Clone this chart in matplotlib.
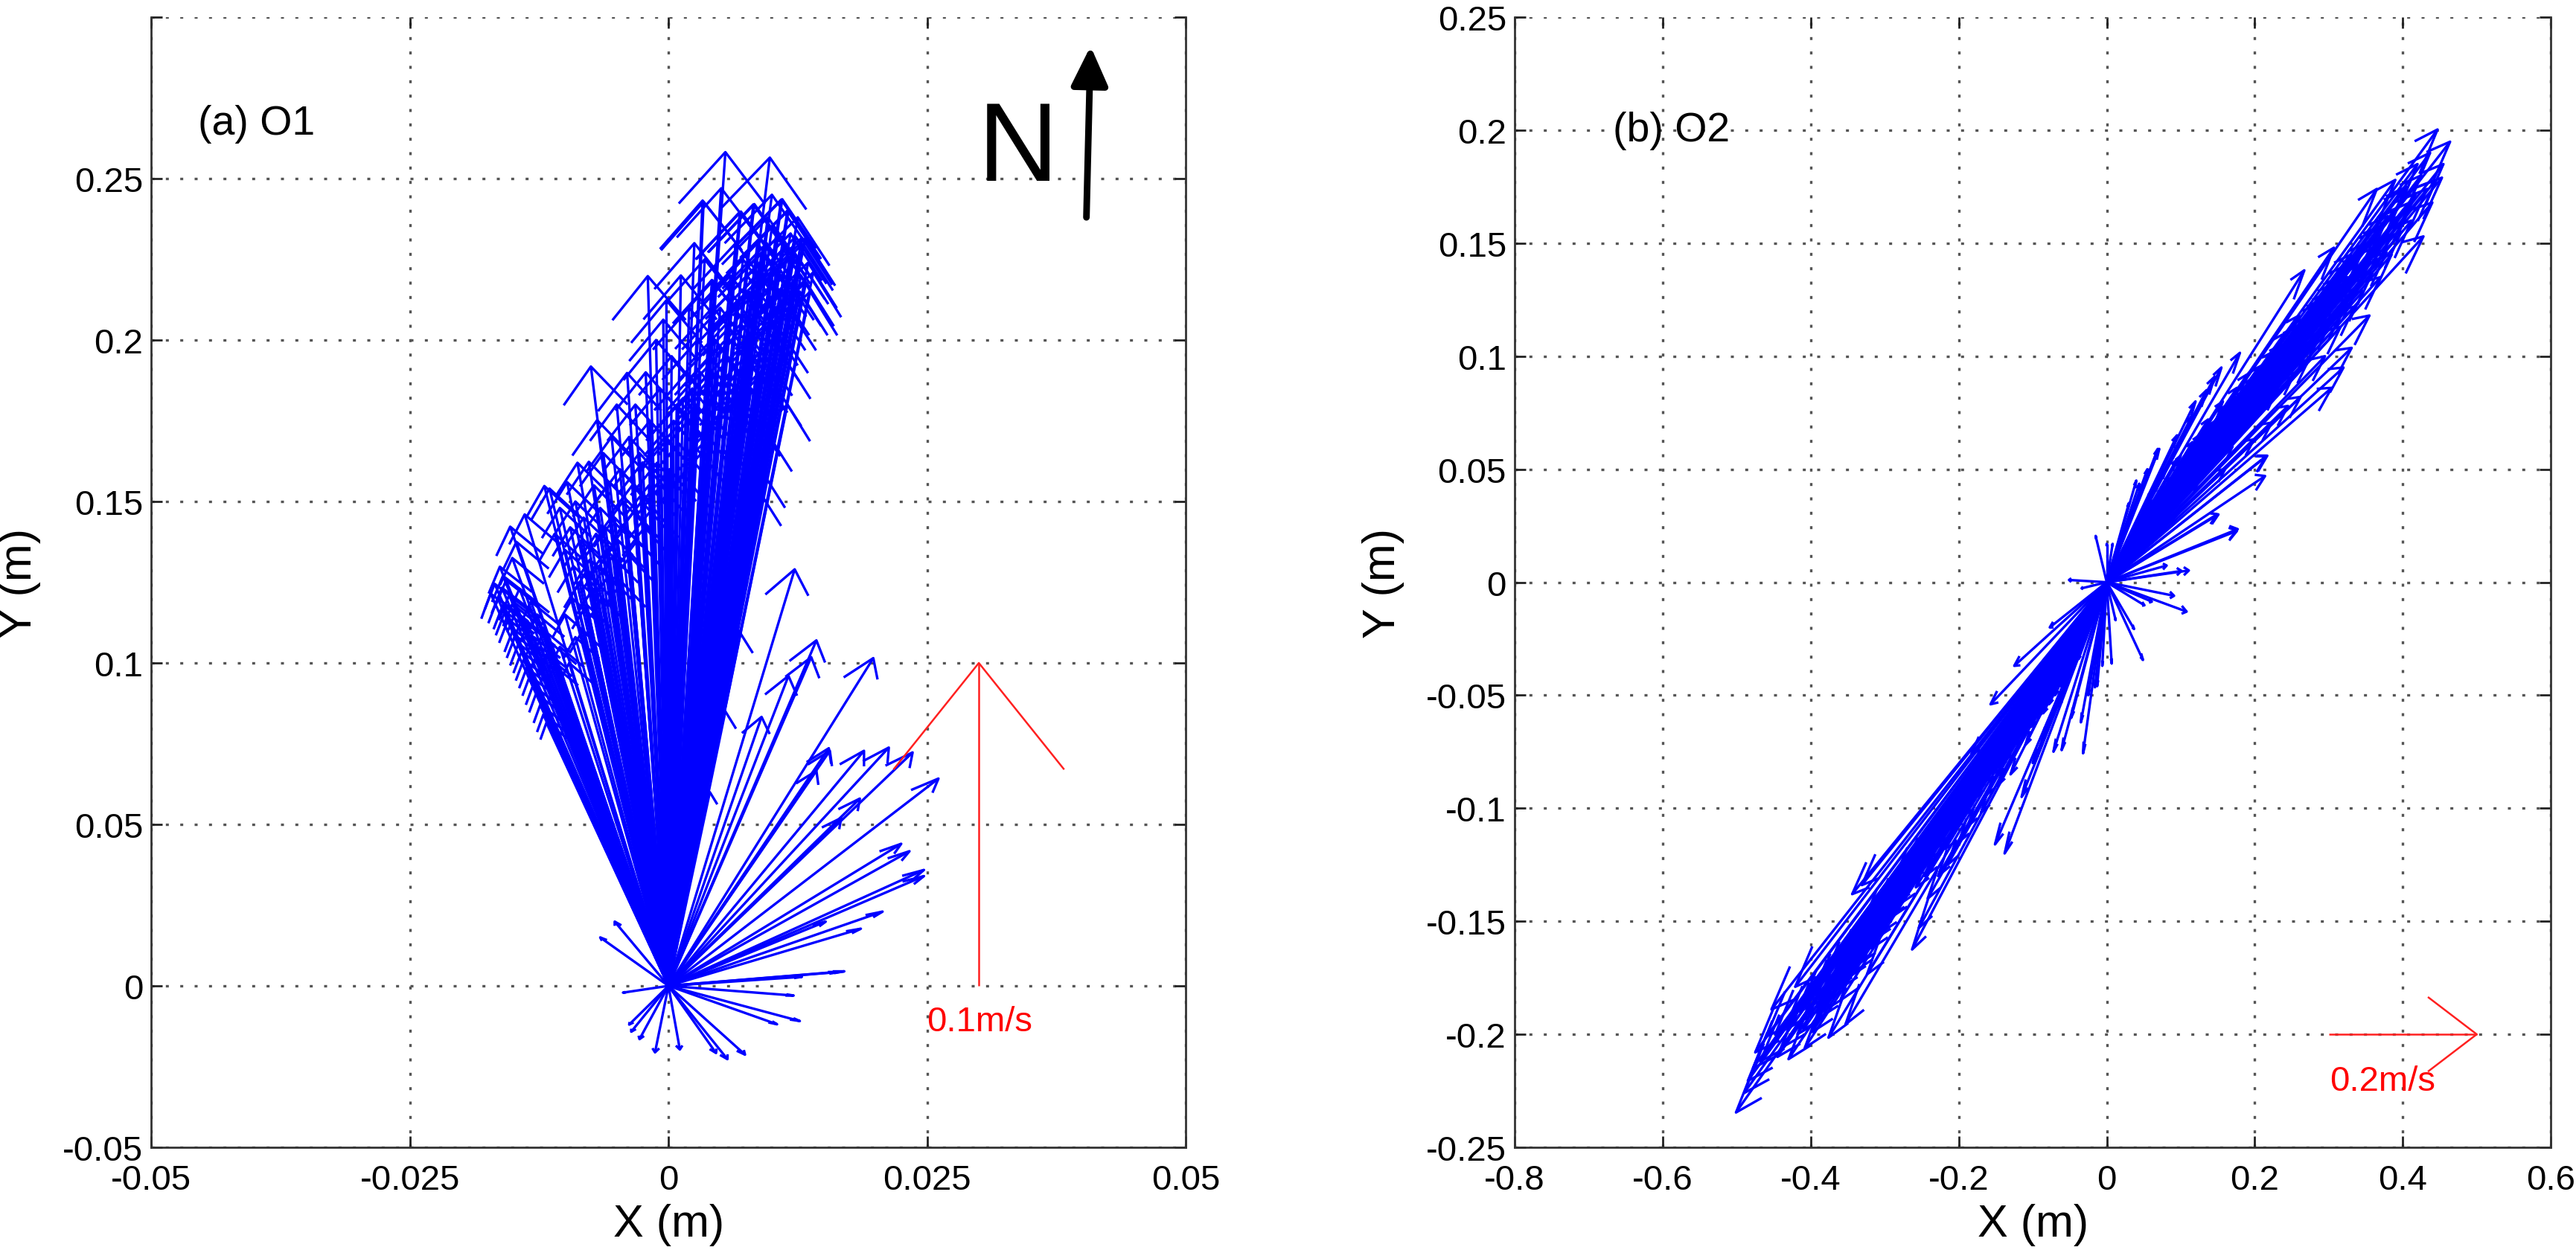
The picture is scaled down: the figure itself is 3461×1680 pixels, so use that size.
import matplotlib
matplotlib.use("Agg")
import matplotlib.pyplot as plt
from matplotlib.collections import LineCollection

plt.rcParams['font.family'] = ['Liberation Sans', 'DejaVu Sans']

# ---- O1 velocity vectors (u, v) ----
o1_band_left = [
    (-0.0172, 0.1215), (-0.0168, 0.1245), (-0.0165, 0.1200), (-0.0163, 0.1298),
    (-0.0161, 0.1233), (-0.0160, 0.1180), (-0.0158, 0.1160), (-0.0157, 0.1256),
    (-0.0155, 0.1135), (-0.0153, 0.1422), (-0.0151, 0.1325), (-0.0150, 0.1105),
    (-0.0148, 0.1085), (-0.0147, 0.1375), (-0.0145, 0.1060), (-0.0142, 0.1035),
    (-0.0140, 0.1010), (-0.0139, 0.1460), (-0.0137, 0.0985), (-0.0134, 0.0960),
    (-0.0131, 0.0930), (-0.0128, 0.0905), (-0.0124, 0.0870), (-0.0121, 0.0840),
    (-0.0118, 0.0815), (-0.0160, 0.1270), (-0.0154, 0.1210), (-0.0150, 0.1190),
    (-0.0146, 0.1170), (-0.0144, 0.1230), (-0.0141, 0.1140), (-0.0136, 0.1120),
    (-0.0133, 0.1190), (-0.0130, 0.1080), (-0.0127, 0.1150), (-0.0124, 0.1050),
    (-0.0120, 0.1100), (-0.0117, 0.1020), (-0.0113, 0.1060), (-0.0110, 0.0990),
]
o1_band_mid = [
    (-0.0120, 0.1548), (-0.0115, 0.1540), (-0.0110, 0.1400), (-0.0105, 0.1480),
    (-0.0100, 0.1350), (-0.0098, 0.1560), (-0.0095, 0.1420), (-0.0092, 0.1300),
    (-0.0090, 0.1500), (-0.0088, 0.1620), (-0.0085, 0.1380), (-0.0082, 0.1450),
    (-0.0080, 0.1280), (-0.0077, 0.1623), (-0.0075, 0.1918), (-0.0072, 0.1550),
    (-0.0070, 0.1400), (-0.0069, 0.1752), (-0.0066, 0.1480), (-0.0063, 0.1650),
    (-0.0060, 0.1350), (-0.0057, 0.1560), (-0.0055, 0.1700), (-0.0052, 0.1450),
    (-0.0050, 0.1800), (-0.0047, 0.1600), (-0.0044, 0.1500), (-0.0040, 0.1898),
    (-0.0038, 0.1700), (-0.0035, 0.1550), (-0.0032, 0.1800), (-0.0028, 0.1650),
    (-0.0025, 0.1621), (-0.0022, 0.1900), (-0.0020, 0.2198), (-0.0018, 0.1750),
    (-0.0012, 0.2000), (-0.0008, 0.1850), (-0.0005, 0.2063), (-0.0002, 0.2123),
    (-0.0001, 0.1694), (0.0003, 0.1950), (0.0008, 0.1800), (0.0015, 0.1582),
]
o1_band_fill = [
    (-0.0105, 0.1050), (-0.0100, 0.1150), (-0.0096, 0.1000), (-0.0093, 0.1200),
    (-0.0090, 0.1080), (-0.0086, 0.1250), (-0.0083, 0.1100), (-0.0079, 0.1180),
    (-0.0076, 0.1320), (-0.0073, 0.1230), (-0.0068, 0.1300), (-0.0064, 0.1200),
    (-0.0061, 0.1420), (-0.0058, 0.1270), (-0.0054, 0.1330), (-0.0049, 0.1380),
    (-0.0045, 0.1250), (-0.0042, 0.1420), (-0.0037, 0.1330), (-0.0033, 0.1470),
    (-0.0030, 0.1380), (-0.0026, 0.1500), (-0.0023, 0.1420), (-0.0019, 0.1550),
    (-0.0015, 0.1480), (-0.0011, 0.1620), (-0.0007, 0.1550), (-0.0003, 0.1700),
    (0.0001, 0.1600), (0.0005, 0.1750), (0.0010, 0.1680), (0.0014, 0.1820),
    (0.0019, 0.1750), (0.0023, 0.1850), (0.0027, 0.1800), (0.0031, 0.1900),
    (0.0036, 0.1850), (0.0040, 0.1950), (0.0046, 0.1900), (0.0050, 0.1980),
    (0.0056, 0.2050), (0.0062, 0.2000), (0.0066, 0.2120), (0.0071, 0.2080),
    (0.0076, 0.2200), (0.0081, 0.2150), (0.0086, 0.2300), (0.0091, 0.2200),
    (0.0096, 0.2380), (0.0101, 0.2250), (0.0106, 0.2320), (0.0111, 0.2280),
    (0.0117, 0.2250), (0.0123, 0.2320), (0.0127, 0.2150), (0.0133, 0.2180),
    (0.0105, 0.2100), (0.0098, 0.2050), (0.0094, 0.1950), (0.0088, 0.1900),
    (0.0082, 0.1950), (0.0077, 0.2000), (0.0068, 0.1900), (0.0064, 0.1850),
    (0.0058, 0.1800), (0.0052, 0.1850), (0.0047, 0.1750), (0.0039, 0.1700),
    (0.0032, 0.1650),
]
o1_band_right = [
    (0.0055, 0.2582), (0.0098, 0.2565), (0.0034, 0.2428), (0.0082, 0.2420),
    (0.0109, 0.2435), (0.0115, 0.2401), (0.0069, 0.2397), (0.0132, 0.2314),
    (0.0130, 0.2298), (0.0043, 0.2184), (0.0126, 0.2253), (0.0090, 0.2272),
    (0.0104, 0.2211), (0.0122, 0.2270), (0.0118, 0.2330), (0.0100, 0.2350),
    (0.0095, 0.2300), (0.0088, 0.2240), (0.0112, 0.2200), (0.0108, 0.2150),
    (0.0120, 0.2180), (0.0128, 0.2200), (0.0135, 0.2240), (0.0140, 0.2210),
    (0.0137, 0.2150), (0.0116, 0.2100), (0.0109, 0.2025), (0.0113, 0.1940),
    (0.0090, 0.1894), (0.0100, 0.2000), (0.0085, 0.2080), (0.0078, 0.2150),
    (0.0072, 0.2250), (0.0065, 0.2300), (0.0060, 0.2200), (0.0070, 0.2050),
    (0.0075, 0.1950), (0.0080, 0.1850), (0.0093, 0.1580), (0.0090, 0.1520),
    (0.0105, 0.1850), (0.0115, 0.1800), (0.0098, 0.1700), (0.0085, 0.1750),
    (0.0050, 0.2100), (0.0055, 0.1950), (0.0045, 0.2000), (0.0040, 0.1900),
    (0.0035, 0.2250), (0.0025, 0.2300), (0.0042, 0.2186), (0.0043, 0.2102),
    (0.0033, 0.2432), (0.0051, 0.2470), (0.0070, 0.2398), (0.0083, 0.2421),
    (0.0110, 0.2436), (0.0116, 0.2402), (0.0129, 0.2317), (0.0020, 0.2100),
    (0.0028, 0.2000), (0.0018, 0.1900), (0.0012, 0.2200), (0.0100, 0.2450),
    (0.0125, 0.2380),
]
o1_east = [
    (0.0122, 0.1290), (0.0143, 0.1070), (0.0138, 0.1018), (0.0116, 0.0960),
    (0.0198, 0.1015), (0.0090, 0.0833), (0.0156, 0.0728), (0.0189, 0.0728),
    (0.0213, 0.0738), (0.0236, 0.0723), (0.0155, 0.0736), (0.0143, 0.0666),
    (0.0261, 0.0642), (0.0185, 0.0580), (0.0167, 0.0520), (0.0225, 0.0440),
    (0.0233, 0.0417), (0.0247, 0.0359), (0.0247, 0.0340), (0.0207, 0.0230),
    (0.0186, 0.0177), (0.0170, 0.0045), (0.0068, 0.1100), (0.0055, 0.0850),
    (0.0040, 0.0600), (0.0152, 0.0199),
]
o1_small = [
    (-0.0066, 0.0150), (-0.0052, 0.0199), (0.0165, 0.0043), (0.0129, 0.0028),
    (-0.0044, -0.0021), (0.0121, -0.0030), (0.0127, -0.0109), (0.0105, -0.0119),
    (-0.0038, -0.0120), (-0.0036, -0.0142), (-0.0028, -0.0165), (-0.0013, -0.0206),
    (0.0011, -0.0197), (0.0046, -0.0208), (0.0057, -0.0227), (0.0074, -0.0213),
]

# ---- O2 velocity vectors (u, v) ----
o2_ne = [
    (0.447, 0.2003), (0.464, 0.1949), (0.453, 0.1790), (0.433, 0.1740),
    (0.402, 0.1735), (0.365, 0.1740), (0.428, 0.1530), (0.307, 0.1480),
    (0.267, 0.1380), (0.331, 0.1037), (0.304, 0.0860), (0.217, 0.0560),
    (0.214, 0.0470), (0.177, 0.0235), (0.149, 0.0300), (0.180, 0.1015),
    (0.146, 0.0910), (0.115, 0.0735), (0.069, 0.0590), (0.0475, 0.0430),
    (0.396, 0.1620), (0.384, 0.1540), (0.378, 0.1460), (0.359, 0.1370),
    (0.347, 0.1290), (0.335, 0.1220), (0.316, 0.1130), (0.285, 0.1070),
    (0.273, 0.0985), (0.254, 0.0926), (0.223, 0.0706), (0.199, 0.0632),
    (0.420, 0.1850), (0.410, 0.1680), (0.390, 0.1780), (0.372, 0.1580),
    (0.350, 0.1500), (0.340, 0.1400), (0.325, 0.1350), (0.310, 0.1280),
    (0.300, 0.1200), (0.290, 0.1250), (0.280, 0.1150), (0.270, 0.1100),
    (0.260, 0.1180), (0.250, 0.1050), (0.240, 0.1100), (0.235, 0.0980),
    (0.225, 0.1020), (0.215, 0.0900), (0.205, 0.0950), (0.195, 0.0850),
    (0.190, 0.0920), (0.185, 0.0780), (0.175, 0.0820), (0.165, 0.0700),
    (0.160, 0.0780), (0.150, 0.0650), (0.140, 0.0700), (0.130, 0.0580),
    (0.125, 0.0650), (0.110, 0.0520), (0.100, 0.0560), (0.090, 0.0450),
    (0.080, 0.0500), (0.320, 0.0950), (0.295, 0.1000), (0.262, 0.0820),
    (0.245, 0.0780), (0.230, 0.0850), (0.355, 0.1180), (0.370, 0.1350),
    (0.385, 0.1450), (0.398, 0.1550), (0.412, 0.1600), (0.440, 0.1680),
    (0.455, 0.1850), (0.437, 0.1900), (0.071, 0.0590), (0.044, 0.0436),
    (0.215, 0.0557), (0.040, 0.0450), (0.055, 0.0500), (0.030, 0.0350),
    (0.060, 0.0400), (0.095, 0.0650), (0.120, 0.0800), (0.135, 0.0850),
    (0.155, 0.0950), (0.170, 0.0600), (0.125, 0.0450), (0.105, 0.0400),
    (0.085, 0.0300), (0.160, 0.0500), (0.145, 0.0550),
]
o2_ne_fill = [
    (0.330, 0.1450), (0.322, 0.1400), (0.314, 0.1350), (0.306, 0.1320),
    (0.298, 0.1280), (0.292, 0.1210), (0.284, 0.1230), (0.276, 0.1180),
    (0.268, 0.1140), (0.262, 0.1080), (0.256, 0.1130), (0.248, 0.1060),
    (0.242, 0.1020), (0.236, 0.1050), (0.228, 0.0980), (0.222, 0.0950),
    (0.216, 0.0970), (0.208, 0.0900), (0.202, 0.0880), (0.196, 0.0900),
    (0.188, 0.0850), (0.182, 0.0820), (0.176, 0.0860), (0.170, 0.0780),
    (0.163, 0.0760), (0.157, 0.0800), (0.150, 0.0720), (0.143, 0.0680),
    (0.137, 0.0720), (0.130, 0.0660), (0.122, 0.0600), (0.116, 0.0620),
    (0.108, 0.0560), (0.100, 0.0500), (0.094, 0.0540), (0.086, 0.0460),
    (0.078, 0.0420), (0.070, 0.0440), (0.062, 0.0360), (0.054, 0.0340),
    (0.046, 0.0300), (0.362, 0.1480), (0.356, 0.1420), (0.344, 0.1340),
    (0.338, 0.1300), (0.328, 0.1260), (0.318, 0.1200), (0.302, 0.1150),
    (0.288, 0.1100), (0.274, 0.1050), (0.258, 0.1000), (0.244, 0.0950),
    (0.232, 0.0920), (0.218, 0.0850), (0.204, 0.0800), (0.192, 0.0760),
    (0.178, 0.0720), (0.166, 0.0660), (0.152, 0.0620), (0.138, 0.0580),
    (0.124, 0.0540), (0.392, 0.1650), (0.380, 0.1620), (0.375, 0.1520),
    (0.366, 0.1560), (0.405, 0.1750), (0.418, 0.1720), (0.425, 0.1800),
    (0.445, 0.1780), (0.342, 0.1450),
]
o2_sw = [
    (-0.501, -0.2346), (-0.490, -0.2260), (-0.485, -0.2206), (-0.478, -0.2150),
    (-0.475, -0.2080), (-0.468, -0.2120), (-0.460, -0.2010), (-0.453, -0.1890),
    (-0.448, -0.2000), (-0.440, -0.2060), (-0.430, -0.2110), (-0.425, -0.1960),
    (-0.421, -0.1790), (-0.415, -0.1900), (-0.408, -0.2060), (-0.400, -0.1850),
    (-0.395, -0.1820), (-0.390, -0.1930), (-0.382, -0.1760), (-0.376, -0.2015),
    (-0.370, -0.1800), (-0.365, -0.1700), (-0.360, -0.1850), (-0.353, -0.1956),
    (-0.348, -0.1650), (-0.344, -0.1380), (-0.340, -0.1720), (-0.335, -0.1580),
    (-0.331, -0.1340), (-0.328, -0.1500), (-0.324, -0.1735), (-0.318, -0.1620),
    (-0.312, -0.1450), (-0.305, -0.1550), (-0.298, -0.1400), (-0.290, -0.1480),
    (-0.285, -0.1300), (-0.278, -0.1420), (-0.270, -0.1250), (-0.263, -0.1625),
    (-0.258, -0.1350), (-0.254, -0.1530), (-0.248, -0.1200), (-0.242, -0.1400),
    (-0.235, -0.1150), (-0.228, -0.1300), (-0.220, -0.1080), (-0.215, -0.1250),
    (-0.208, -0.1000), (-0.200, -0.1150), (-0.195, -0.0920), (-0.188, -0.1080),
    (-0.183, -0.0760), (-0.178, -0.0950), (-0.170, -0.1020), (-0.165, -0.0820),
    (-0.157, -0.0540), (-0.151, -0.1160), (-0.148, -0.0900), (-0.140, -0.0750),
    (-0.138, -0.1200), (-0.130, -0.0850), (-0.125, -0.0370), (-0.120, -0.0680),
    (-0.115, -0.0950), (-0.108, -0.0600), (-0.100, -0.0800), (-0.095, -0.0520),
    (-0.088, -0.0700), (-0.080, -0.0450), (-0.077, -0.0200), (-0.072, -0.0750),
    (-0.065, -0.0550), (-0.061, -0.0743), (-0.055, -0.0400), (-0.048, -0.0600),
    (-0.040, -0.0300), (-0.035, -0.0620), (-0.032, -0.0757), (-0.025, -0.0500),
    (-0.016, -0.0465), (-0.013, -0.0460), (-0.006, -0.0370),
]
o2_sw_fill = [
    (-0.410, -0.1980), (-0.402, -0.1920), (-0.392, -0.1880), (-0.386, -0.1830),
    (-0.378, -0.1850), (-0.372, -0.1760), (-0.366, -0.1780), (-0.356, -0.1720),
    (-0.350, -0.1750), (-0.342, -0.1660), (-0.336, -0.1690), (-0.326, -0.1600),
    (-0.320, -0.1560), (-0.314, -0.1580), (-0.306, -0.1500), (-0.300, -0.1460),
    (-0.294, -0.1480), (-0.286, -0.1420), (-0.280, -0.1380), (-0.274, -0.1350),
    (-0.266, -0.1320), (-0.260, -0.1280), (-0.252, -0.1260), (-0.246, -0.1300),
    (-0.238, -0.1220), (-0.232, -0.1180), (-0.224, -0.1150), (-0.218, -0.1180),
    (-0.210, -0.1100), (-0.204, -0.1060), (-0.196, -0.1040), (-0.190, -0.0990),
    (-0.184, -0.0970), (-0.176, -0.0920), (-0.168, -0.0890), (-0.162, -0.0940),
    (-0.154, -0.0850), (-0.146, -0.0820), (-0.138, -0.0790), (-0.132, -0.0740),
    (-0.124, -0.0720), (-0.116, -0.0680), (-0.110, -0.0720), (-0.102, -0.0640),
    (-0.094, -0.0600), (-0.086, -0.0580), (-0.078, -0.0540), (-0.070, -0.0500),
    (-0.062, -0.0460), (-0.054, -0.0420), (-0.046, -0.0380), (-0.038, -0.0340),
    (-0.445, -0.2100), (-0.435, -0.1980), (-0.418, -0.2000), (-0.398, -0.1990),
    (-0.384, -0.1900), (-0.362, -0.1800), (-0.346, -0.1700), (-0.332, -0.1620),
    (-0.316, -0.1520), (-0.302, -0.1430), (-0.288, -0.1360), (-0.272, -0.1290),
    (-0.256, -0.1220), (-0.240, -0.1160), (-0.226, -0.1100), (-0.212, -0.1040),
    (-0.198, -0.0980), (-0.182, -0.0900), (-0.166, -0.0830),
]
o2_small = [
    (-0.015, 0.0205), (0.000, 0.0170), (0.008, 0.0170), (-0.051, 0.0010),
    (-0.034, -0.0027), (0.111, 0.0052), (0.101, 0.0050), (0.081, 0.0074),
    (0.091, -0.0060), (0.108, -0.0130), (0.051, -0.0102), (0.061, -0.0086),
    (0.037, -0.0207), (0.049, -0.0344), (0.0067, -0.0360), (0.012, -0.0168),
    (0.176, 0.0227), (0.151, 0.0300),
]

# reference (scale) arrows: x0, y0, u, v, label
o1_ref = (0.03, 0.0, 0.0, 0.1, '0.1m/s')
o2_ref = (0.3, -0.2, 0.2, 0.0, '0.2m/s')

o1_xticks = [-0.05, -0.025, 0, 0.025, 0.05]
o1_xlabels = ['-0.05', '-0.025', '0', '0.025', '0.05']
o1_yticks = [-0.05, 0, 0.05, 0.1, 0.15, 0.2, 0.25, 0.3]
o1_ylabels = ['-0.05', '0', '0.05', '0.1', '0.15', '0.2', '0.25', '']
o2_xticks = [-0.8, -0.6, -0.4, -0.2, 0, 0.2, 0.4, 0.6]
o2_xlabels = ['-0.8', '-0.6', '-0.4', '-0.2', '0', '0.2', '0.4', '0.6']
o2_yticks = [-0.25, -0.2, -0.15, -0.1, -0.05, 0, 0.05, 0.1, 0.15, 0.2, 0.25]
o2_ylabels = ['-0.25', '-0.2', '-0.15', '-0.1', '-0.05', '0', '0.05', '0.1',
              '0.15', '0.2', '0.25']


# quiver-like arrows: shaft + two head wings, head built in data units
def arrow_segs(vecs, x0=0.0, y0=0.0, alpha=0.062, beta=0.26):
    segs = []
    for u, v in vecs:
        tx, ty = x0 + u, y0 + v
        segs.append([(x0, y0), (tx, ty)])
        segs.append([(tx - alpha * (u + beta * v), ty - alpha * (v - beta * u)),
                     (tx, ty),
                     (tx - alpha * (u - beta * v), ty - alpha * (v + beta * u))])
    return segs


def style_axes(ax, xlim, ylim, xt, xl, yt, yl):
    ax.set_xlim(xlim)
    ax.set_ylim(ylim)
    ax.set_xticks(xt)
    ax.set_xticklabels(xl)
    ax.set_yticks(yt)
    ax.set_yticklabels(yl)
    ax.tick_params(direction='in', length=5.5, width=1.0, labelsize=17,
                   top=True, right=True, colors='#222222', labelcolor='black')
    ax.tick_params(axis='x', pad=8)
    ax.tick_params(axis='y', pad=4)
    ax.grid(True, color='#555555', linestyle=(0, (1.2, 4.6)), linewidth=1.2)
    ax.set_axisbelow(True)
    for s in ['left', 'right', 'bottom']:
        ax.spines[s].set_color('#333333')
        ax.spines[s].set_linewidth(1.0)
    ax.spines['top'].set_visible(False)
    ax.set_xlabel('X (m)', fontsize=22)
    ax.set_ylabel('Y (m)', fontsize=22)
    ax.xaxis.set_label_coords(0.5, -0.068)
    ax.xaxis.label.set_va('center')
    ax.yaxis.set_label_coords(-0.127, 0.5)
    ax.yaxis.label.set_va('center')


def draw_ref(ax, ref, x_off, y_off):
    x0, y0, u, v, txt = ref
    lc = LineCollection(arrow_segs([(u, v)], x0, y0, alpha=0.33, beta=0.25),
                        colors='#ff2020', linewidths=0.9, zorder=3)
    ax.add_collection(lc)
    ax.text(x0 + x_off, y0 + y_off, txt, color='red', fontsize=17,
            ha='left', va='baseline')


fig = plt.figure(figsize=(17.305, 8.405), dpi=200)
ax1 = fig.add_axes([0.0587, 0.0821, 0.4016, 0.9036])
ax2 = fig.add_axes([0.5880, 0.0821, 0.4022, 0.9036])

# panel (a)
style_axes(ax1, (-0.05, 0.05), (-0.05, 0.3), o1_xticks, o1_xlabels, o1_yticks, o1_ylabels)
o1_all = o1_band_left + o1_band_mid + o1_band_fill + o1_band_right + o1_east + o1_small
ax1.add_collection(LineCollection(arrow_segs(o1_all), colors='#0000ff',
                                  linewidths=1.2, zorder=2))
draw_ref(ax1, o1_ref, -0.005, -0.0139)
ax1.text(-0.0455, 0.267, '(a) O1', fontsize=20, ha='left', va='center')
ax1.text(0.0299, 0.2495, 'N', fontsize=54, ha='left', va='baseline')
ax1.annotate('', xy=(0.0408, 0.291), xytext=(0.0404, 0.238),
             arrowprops=dict(arrowstyle='-|>,head_length=1.6,head_width=0.75',
                             lw=3.2, color='black', shrinkA=0, shrinkB=0))

# panel (b)
style_axes(ax2, (-0.8, 0.6), (-0.25, 0.25), o2_xticks, o2_xlabels, o2_yticks, o2_ylabels)
o2_all = o2_ne + o2_ne_fill + o2_sw + o2_sw_fill + o2_small
ax2.add_collection(LineCollection(arrow_segs(o2_all), colors='#0000ff',
                                  linewidths=1.2, zorder=2))
draw_ref(ax2, o2_ref, 0.001, -0.0246)
ax2.text(-0.667, 0.2, '(b) O2', fontsize=20, ha='left', va='center')

fig.savefig('out.png', dpi=200)
